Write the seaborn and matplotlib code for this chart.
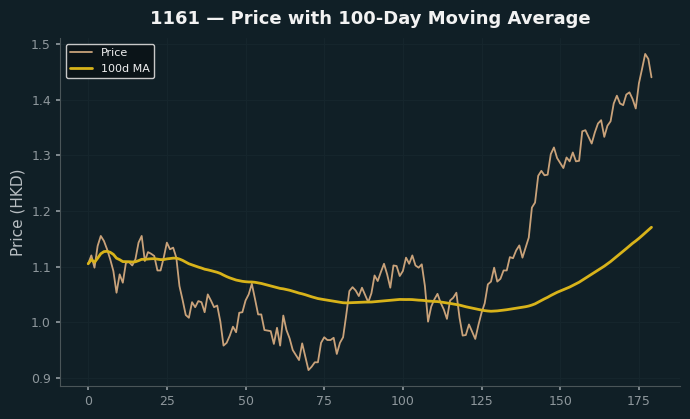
import numpy as np
import pandas as pd
import matplotlib
matplotlib.use("Agg")
import matplotlib.pyplot as plt
import seaborn as sns

title = "1161 — Price with 100-Day Moving Average"
ylabel = "Price (HKD)"
series_names = ["Price", "100d MA"]
ma_window = 100

price = [
    1.105, 1.120, 1.098, 1.137, 1.155, 1.146, 1.131, 1.113, 1.092, 1.053,
    1.086, 1.071, 1.107, 1.108, 1.102, 1.113, 1.143, 1.155, 1.110, 1.126,
    1.123, 1.119, 1.093, 1.093, 1.116, 1.143, 1.131, 1.134, 1.116, 1.065,
    1.040, 1.013, 1.008, 1.036, 1.027, 1.038, 1.036, 1.018, 1.050, 1.039,
    1.027, 1.030, 1.001, 0.958, 0.963, 0.976, 0.992, 0.982, 1.017, 1.018,
    1.039, 1.050, 1.069, 1.042, 1.014, 1.014, 0.986, 0.985, 0.984, 0.961,
    0.990, 0.958, 1.012, 0.986, 0.971, 0.950, 0.941, 0.932, 0.962, 0.938,
    0.914, 0.920, 0.928, 0.928, 0.963, 0.973, 0.968, 0.968, 0.972, 0.943,
    0.963, 0.973, 1.013, 1.056, 1.063, 1.057, 1.047, 1.062, 1.049, 1.036,
    1.052, 1.084, 1.074, 1.090, 1.105, 1.086, 1.062, 1.102, 1.101, 1.083,
    1.092, 1.116, 1.105, 1.120, 1.102, 1.098, 1.104, 1.065, 1.001, 1.028,
    1.041, 1.051, 1.035, 1.023, 1.006, 1.039, 1.044, 1.053, 1.008, 0.976,
    0.977, 0.996, 0.983, 0.970, 0.995, 1.017, 1.034, 1.068, 1.073, 1.098,
    1.073, 1.078, 1.093, 1.093, 1.117, 1.115, 1.129, 1.138, 1.116, 1.134,
    1.152, 1.206, 1.215, 1.263, 1.272, 1.264, 1.265, 1.302, 1.314, 1.295,
    1.286, 1.277, 1.296, 1.289, 1.305, 1.289, 1.290, 1.343, 1.345, 1.333,
    1.321, 1.341, 1.357, 1.363, 1.333, 1.353, 1.361, 1.393, 1.407, 1.393,
    1.390, 1.409, 1.413, 1.401, 1.384, 1.429, 1.455, 1.482, 1.473, 1.440,
]
day = list(range(len(price)))

df = pd.DataFrame({"day": day, "price": price})
df["ma"] = df["price"].rolling(ma_window, min_periods=1).mean()

BG = "#101f26"
sns.set_theme(style="dark")
plt.rcParams["font.family"] = ["DejaVu Sans"]

fig, ax = plt.subplots(figsize=(6.9, 4.19), dpi=100)
fig.patch.set_facecolor(BG)
ax.set_facecolor(BG)

sns.lineplot(data=df, x="day", y="price", ax=ax, color="#c9a27a",
             linewidth=1.3, label=series_names[0])
sns.lineplot(data=df, x="day", y="ma", ax=ax, color="#d8b31a",
             linewidth=2.0, label=series_names[1])

ax.set_title(title, color="#f2f2f2", fontsize=13, fontweight="bold", pad=10)
ax.set_xlabel("")
ax.set_ylabel(ylabel, color="#b8bec2", fontsize=11)
ax.tick_params(colors="#8e979c", labelsize=9, length=3, left=True, bottom=True)
ax.grid(True, color="#15252c", linewidth=0.8)
sns.despine(ax=ax)
for s in ["left", "bottom"]:
    ax.spines[s].set_color("#4a5558")
    ax.spines[s].set_linewidth(0.8)

leg = ax.legend(loc="upper left", facecolor="#0b1418", edgecolor="#c8c8c8",
                fontsize=8, framealpha=1.0)
for t in leg.get_texts():
    t.set_color("#f0f0f0")

fig.subplots_adjust(left=0.087, right=0.985, top=0.909, bottom=0.079)
fig.savefig("out.png", dpi=100, facecolor=BG)
